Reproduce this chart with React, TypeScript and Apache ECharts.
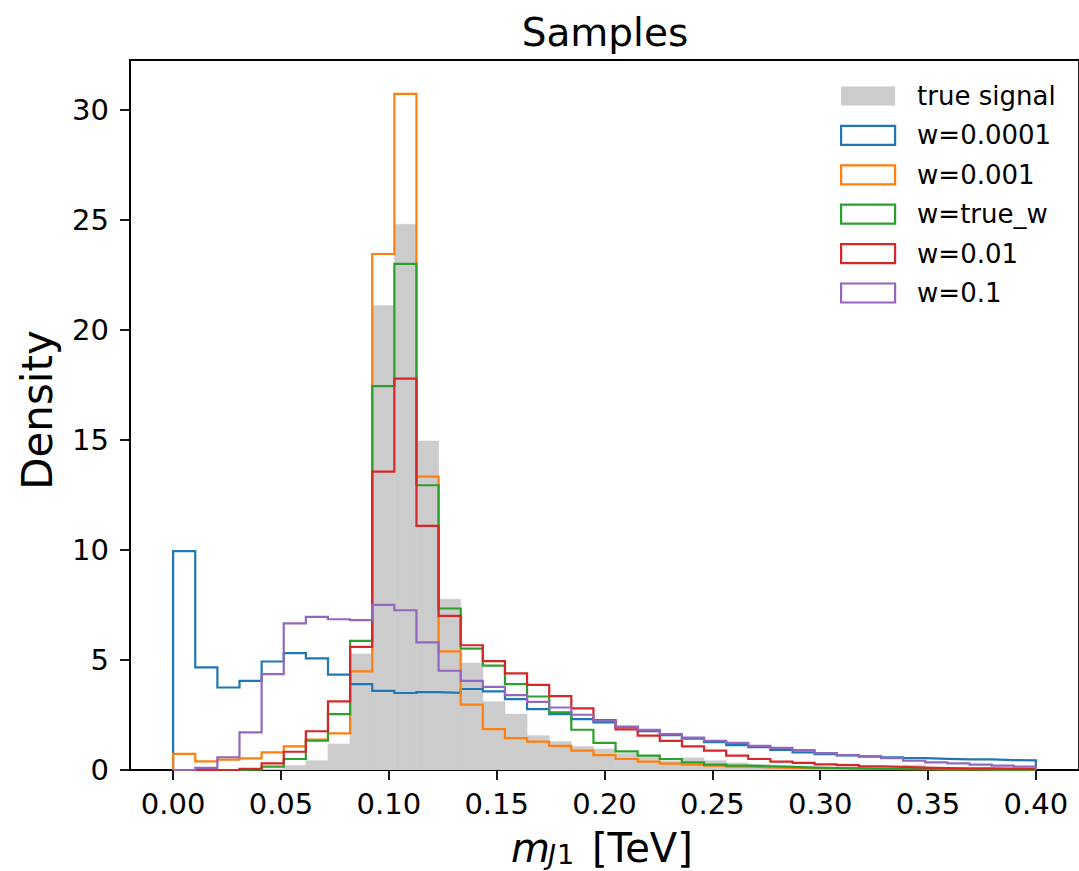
import React, { useEffect, useRef } from 'react';
import * as echarts from 'echarts';

// Histogram binning: 39 equal bins between 0 and 0.4 TeV
const BIN_LO = 0;
const BIN_HI = 0.4;
const BIN_N = 39;
const EDGES: number[] = Array.from({ length: BIN_N + 1 }, (_, i) => BIN_LO + ((BIN_HI - BIN_LO) * i) / BIN_N);

const X_TICKS = [0, 0.05, 0.1, 0.15, 0.2, 0.25, 0.3, 0.35, 0.4];
const Y_TICKS = [0, 5, 10, 15, 20, 25, 30];

const TRUE_SIGNAL = [0, 0, 0, 0.02, 0.05, 0.2, 0.42, 1.18, 5.27, 21.1, 24.8, 14.95, 7.76, 4.86, 3.1, 2.54, 1.56, 1.29, 1.07, 0.95, 0.75, 0.62, 0.42, 0.55, 0.42, 0.32, 0.25, 0.2, 0.17, 0.14, 0.12, 0.1, 0.09, 0.22, 0.08, 0.07, 0.06, 0.05, 0.04];
const W_0001 = [9.95, 4.66, 3.75, 4.05, 4.93, 5.31, 5.07, 4.33, 3.9, 3.6, 3.5, 3.54, 3.51, 3.68, 3.57, 3.22, 2.77, 2.54, 2.31, 2.16, 1.95, 1.76, 1.58, 1.42, 1.27, 1.13, 1.04, 0.91, 0.8, 0.72, 0.66, 0.62, 0.58, 0.54, 0.51, 0.48, 0.48, 0.45, 0.44];
const W_001 = [0.73, 0.39, 0.47, 0.53, 0.8, 1.07, 1.38, 1.66, 4.48, 23.45, 30.73, 13.33, 5.39, 2.97, 1.86, 1.45, 1.29, 1.1, 0.88, 0.68, 0.5, 0.38, 0.29, 0.24, 0.2, 0.15, 0.12, 0.1, 0.08, 0.07, 0.06, 0.05, 0.04, 0.04, 0.03, 0.03, 0.03, 0.02, 0.02];
const W_TRUE = [0, 0, 0, 0.02, 0.15, 0.5, 1.33, 2.54, 5.87, 17.45, 23.0, 12.94, 7.34, 5.52, 4.74, 3.9, 3.34, 2.62, 1.83, 1.23, 0.85, 0.65, 0.5, 0.35, 0.24, 0.2, 0.17, 0.14, 0.11, 0.09, 0.07, 0.06, 0.05, 0.04, 0.03, 0.03, 0.02, 0.02, 0.02];
const W_01 = [0, 0, 0, 0.05, 0.3, 0.83, 1.76, 3.12, 5.6, 13.56, 17.79, 11.09, 7.0, 5.67, 4.95, 4.39, 3.87, 3.36, 2.8, 2.27, 1.85, 1.56, 1.32, 1.07, 0.88, 0.65, 0.5, 0.38, 0.32, 0.26, 0.22, 0.17, 0.14, 0.11, 0.09, 0.08, 0.07, 0.06, 0.05];
const W_1 = [0.01, 0.1, 0.58, 1.71, 4.36, 6.66, 6.96, 6.85, 6.81, 7.5, 7.26, 5.8, 4.51, 4.05, 3.78, 3.4, 3.1, 2.84, 2.51, 2.24, 1.97, 1.82, 1.63, 1.47, 1.33, 1.23, 1.1, 1.01, 0.91, 0.77, 0.68, 0.61, 0.54, 0.42, 0.35, 0.3, 0.24, 0.2, 0.15];

const STEP_SERIES = [
  { name: 'w=0.0001', values: W_0001, color: '#1f77b4' },
  { name: 'w=0.001', values: W_001, color: '#ff7f0e' },
  { name: 'w=true_w', values: W_TRUE, color: '#2ca02c' },
  { name: 'w=0.01', values: W_01, color: '#d62728' },
  { name: 'w=0.1', values: W_1, color: '#9467bd' },
];
const FILL_NAME = 'true signal';
const FILL_COLOR = '#cccccc';

const FONT = 'DejaVu Sans';

function stepData(vals: number[]): number[][] {
  const pts: number[][] = [[EDGES[0], 0]];
  vals.forEach((v, i) => pts.push([EDGES[i], v]));
  pts.push([EDGES[BIN_N], vals[BIN_N - 1]]);
  pts.push([EDGES[BIN_N], 0]);
  return pts;
}

export default function App() {
  const ref = useRef<HTMLDivElement>(null);
  useEffect(() => {
    if (!ref.current) return;
    const chart = echarts.init(ref.current, null, { renderer: 'svg' });
    const allMax = Math.max(...TRUE_SIGNAL, ...STEP_SERIES.flatMap((s) => s.values));
    const span = BIN_HI - BIN_LO;
    const option: any = {
      animation: false,
      backgroundColor: '#ffffff',
      grid: {
        left: 130,
        right: -2,
        top: 60,
        bottom: 101,
        show: true,
        borderColor: '#000',
        borderWidth: 1.8,
        backgroundColor: 'transparent',
      },
      xAxis: {
        type: 'value',
        min: BIN_LO - 0.05 * span,
        max: BIN_HI + 0.05 * span,
        splitLine: { show: false },
        axisLine: { show: true, onZero: false, lineStyle: { color: '#000', width: 1.8 } },
        axisTick: { show: true, customValues: X_TICKS, length: 10, lineStyle: { color: '#000', width: 1.8 } },
        axisLabel: {
          customValues: X_TICKS,
          formatter: (v: number) => v.toFixed(2),
          fontSize: 29,
          fontFamily: FONT,
          color: '#000',
          margin: 19,
        },
      },
      yAxis: {
        type: 'value',
        min: 0,
        max: allMax * 1.05,
        splitLine: { show: false },
        axisLine: { show: true, onZero: false, lineStyle: { color: '#000', width: 1.8 } },
        axisTick: { show: true, customValues: Y_TICKS, length: 10, lineStyle: { color: '#000', width: 1.8 } },
        axisLabel: {
          customValues: Y_TICKS,
          fontSize: 29,
          fontFamily: FONT,
          color: '#000',
          margin: 21,
        },
      },
      legend: {
        orient: 'vertical',
        left: 840,
        top: 83,
        itemWidth: 54,
        itemHeight: 19,
        itemGap: 13.4,
        padding: 0,
        textStyle: { fontSize: 26, fontFamily: FONT, color: '#000', padding: [0, 0, 0, 17], lineHeight: 19 },
        data: [
          { name: FILL_NAME, icon: 'rect', itemStyle: { color: FILL_COLOR, borderWidth: 0 } },
          ...STEP_SERIES.map((s) => ({
            name: s.name,
            icon: 'rect',
            itemStyle: { color: 'rgba(255,255,255,0)', borderColor: s.color, borderWidth: 2.2 },
          })),
        ],
      },
      graphic: [
        {
          type: 'text',
          x: 605,
          y: 32,
          style: { text: 'Samples', fontSize: 39, fontFamily: FONT, fill: '#000', align: 'center', verticalAlign: 'middle' },
        },
        {
          type: 'text',
          x: 37,
          y: 410,
          rotation: Math.PI / 2,
          style: { text: 'Density', fontSize: 42, fontFamily: FONT, fill: '#000', align: 'center', verticalAlign: 'middle' },
        },
        {
          type: 'text',
          x: 511,
          y: 848,
          style: { text: 'm', fontSize: 40, fontFamily: FONT, fontStyle: 'italic', fill: '#000', align: 'left', verticalAlign: 'middle' },
        },
        {
          type: 'text',
          x: 548,
          y: 854,
          style: { text: 'J', fontSize: 27, fontFamily: FONT, fontStyle: 'italic', fill: '#000', align: 'left', verticalAlign: 'middle' },
        },
        {
          type: 'text',
          x: 557,
          y: 854,
          style: { text: '1', fontSize: 27, fontFamily: FONT, fill: '#000', align: 'left', verticalAlign: 'middle' },
        },
        {
          type: 'text',
          x: 592,
          y: 848,
          style: { text: '[TeV]', fontSize: 40, fontFamily: FONT, fill: '#000', align: 'left', verticalAlign: 'middle' },
        },
      ],
      series: [
        {
          type: 'custom',
          name: FILL_NAME,
          color: FILL_COLOR,
          clip: true,
          encode: { x: [0, 1], y: 2 },
          data: TRUE_SIGNAL.map((v, i) => [EDGES[i], EDGES[i + 1], v]),
          renderItem: (_params: any, api: any) => {
            const p0 = api.coord([api.value(0), api.value(2)]);
            const p1 = api.coord([api.value(1), 0]);
            return {
              type: 'rect',
              shape: { x: p0[0], y: p0[1], width: p1[0] - p0[0], height: p1[1] - p0[1] },
              style: { fill: FILL_COLOR, stroke: FILL_COLOR, lineWidth: 0.6 },
            };
          },
        },
        ...STEP_SERIES.map((s) => ({
          type: 'line',
          name: s.name,
          step: 'end',
          showSymbol: false,
          symbol: 'none',
          color: s.color,
          lineStyle: { color: s.color, width: 2.2, join: 'miter', cap: 'butt' },
          data: stepData(s.values),
        })),
      ],
    };
    chart.setOption(option);
    return () => chart.dispose();
  }, []);
  return <div ref={ref} style={{ position: 'absolute', left: 0, top: 0, width: 1079, height: 871 }} />;
}
